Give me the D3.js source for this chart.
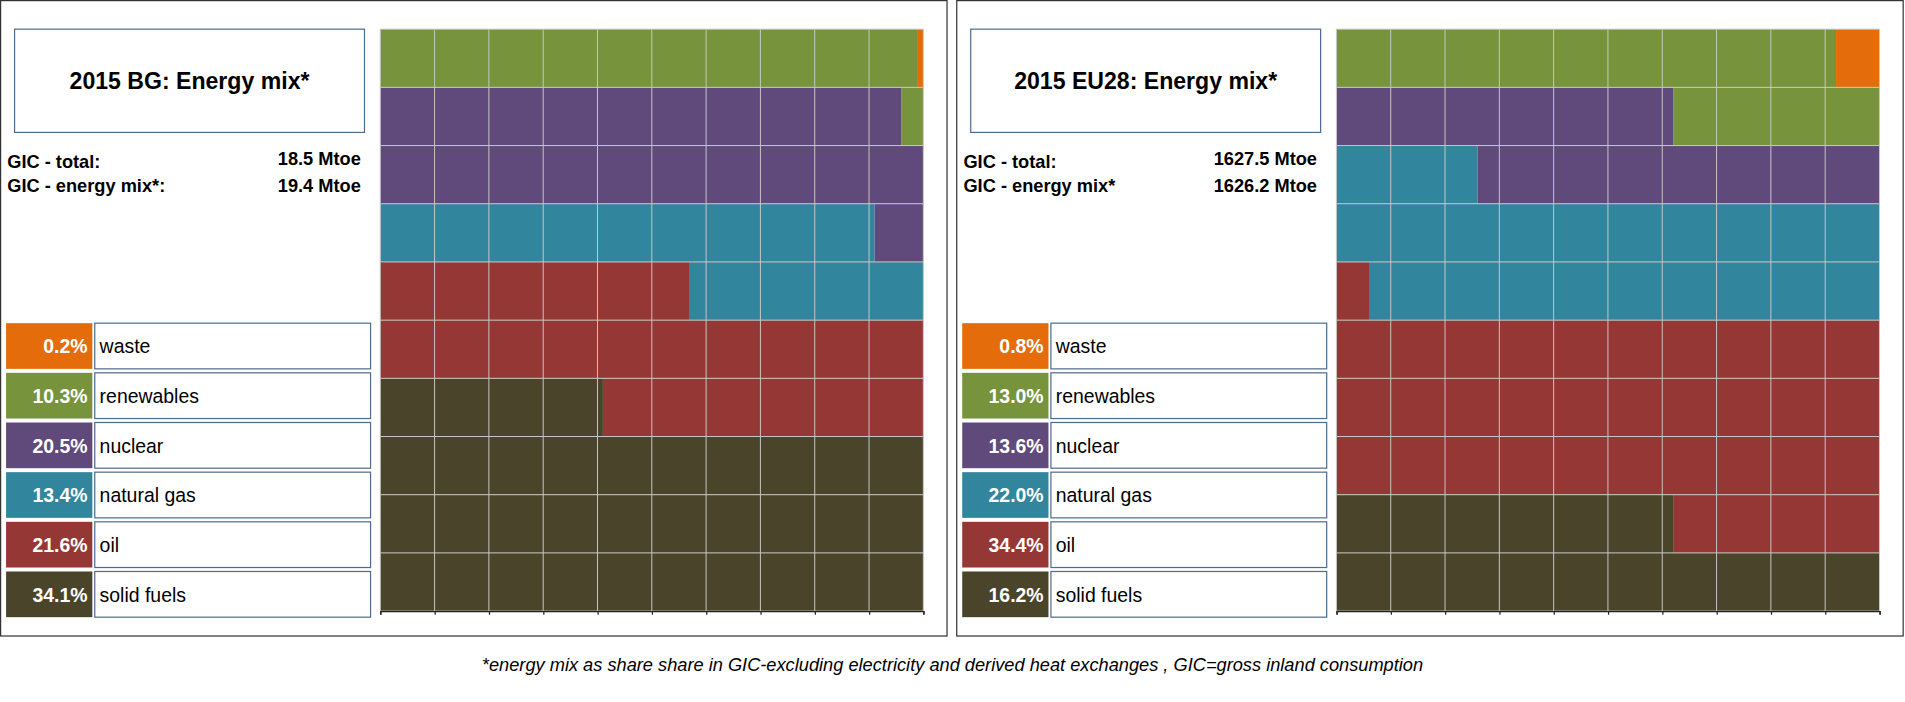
<html>
<head>
<script src="https://d3js.org/d3.v7.min.js"></script>
<style>body{margin:0;background:#fff}text{font-family:"Liberation Sans",Arial,sans-serif}</style>
</head>
<body>
<script>
// categories, stacked from the bottom of the waffle upward
var categories = ["solid fuels", "oil", "natural gas", "nuclear", "renewables", "waste"];
var colors = ["#4A452A", "#953735", "#31859C", "#604A7B", "#77933C", "#E46C0A"];
var bgValues = [34.1, 21.6, 13.4, 20.5, 10.3, 0.2];
var euValues = [16.2, 34.4, 22.0, 13.6, 13.0, 0.8];
var bgInfo = {title: "2015 BG: Energy mix*", total: "18.5 Mtoe", mix: "19.4 Mtoe", mixLabel: "GIC - energy mix*:"};
var euInfo = {title: "2015 EU28: Energy mix*", total: "1627.5 Mtoe", mix: "1626.2 Mtoe", mixLabel: "GIC - energy mix*"};
var footnote = "*energy mix as share share in GIC-excluding electricity and derived heat exchanges , GIC=gross inland consumption";

var s = 1905 / 1568;
var svg = d3.select("body").append("svg").attr("width", 1905).attr("height", 702);
var root = svg.append("g").attr("transform", "scale(" + s + ")");

function panel(ox, values, info) {
  var g = root.append("g").attr("transform", "translate(" + ox + ",0)");
  g.append("rect").attr("x", 0.5).attr("y", 0.5).attr("width", 779).attr("height", 523)
    .attr("fill", "none").attr("stroke", "#333");
  g.append("rect").attr("x", 12).attr("y", 24).attr("width", 288).attr("height", 85)
    .attr("fill", "#fff").attr("stroke", "#4F6B8F");
  g.append("text").attr("x", 156).attr("y", 73).attr("text-anchor", "middle")
    .attr("font-size", 19).attr("font-weight", "bold").text(info.title);
  g.append("text").attr("x", 6).attr("y", 138).attr("font-size", 15).attr("font-weight", "bold").text("GIC - total:");
  g.append("text").attr("x", 6).attr("y", 158).attr("font-size", 15).attr("font-weight", "bold").text(info.mixLabel);
  g.append("text").attr("x", 297).attr("y", 136).attr("text-anchor", "end").attr("font-size", 15).attr("font-weight", "bold").text(info.total);
  g.append("text").attr("x", 297).attr("y", 158).attr("text-anchor", "end").attr("font-size", 15).attr("font-weight", "bold").text(info.mix);

  // legend, top to bottom = reversed order
  var ly = d3.scaleBand().domain(categories.slice().reverse()).range([266, 508]).paddingInner(0.08);
  var leg = g.selectAll(".leg").data(categories.map(function (c, i) { return {c: c, v: values[i], col: colors[i]}; }))
    .enter().append("g");
  leg.append("rect").attr("x", 5).attr("y", function (d) { return ly(d.c); }).attr("width", 71).attr("height", ly.bandwidth()).attr("fill", function (d) { return d.col; });
  leg.append("rect").attr("x", 78).attr("y", function (d) { return ly(d.c); }).attr("width", 227).attr("height", ly.bandwidth()).attr("fill", "#fff").attr("stroke", "#4F6B8F");
  leg.append("text").attr("x", 72).attr("y", function (d) { return ly(d.c) + ly.bandwidth() / 2 + 6; }).attr("text-anchor", "end")
    .attr("fill", "#fff").attr("font-weight", "bold").attr("font-size", 16).text(function (d) { return d.v.toFixed(1) + "%"; });
  leg.append("text").attr("x", 82).attr("y", function (d) { return ly(d.c) + ly.bandwidth() / 2 + 6; })
    .attr("font-size", 16).text(function (d) { return d.c; });

  // waffle: 10 x 10, filled row by row from bottom-left
  var x = d3.scaleLinear().domain([0, 10]).range([313, 760]);
  var y = d3.scaleLinear().domain([0, 10]).range([503, 24]);
  var segs = [], cum = 0;
  values.forEach(function (v, i) {
    var a = cum, b = Math.min(100, cum + v); cum = b;
    for (var r = Math.floor(a / 10); r < 10 && r * 10 < b; r++) {
      var s0 = Math.max(a, r * 10) - r * 10, s1 = Math.min(b, r * 10 + 10) - r * 10;
      if (s1 > s0) segs.push({r: r, a: s0, b: s1, col: colors[i]});
    }
  });
  var w = g.append("g");
  w.selectAll("rect").data(segs).enter().append("rect")
    .attr("x", function (d) { return x(d.a); }).attr("width", function (d) { return x(d.b) - x(d.a); })
    .attr("y", function (d) { return y(d.r + 1); }).attr("height", function (d) { return y(d.r) - y(d.r + 1); })
    .attr("fill", function (d) { return d.col; });
  var ticks = d3.range(0, 11);
  w.selectAll(".vl").data(ticks).enter().append("line")
    .attr("x1", function (d) { return x(d); }).attr("x2", function (d) { return x(d); })
    .attr("y1", y(10)).attr("y2", y(0)).attr("stroke", "#c8c8c8").attr("stroke-width", 0.8);
  w.selectAll(".hl").data(ticks).enter().append("line")
    .attr("x1", x(0)).attr("x2", x(10)).attr("y1", function (d) { return y(d); }).attr("y2", function (d) { return y(d); })
    .attr("stroke", "#c8c8c8").attr("stroke-width", 0.8);
  w.append("g").attr("transform", "translate(0," + y(0) + ")")
    .call(d3.axisBottom(x).ticks(10).tickSize(3).tickFormat(""))
    .call(function (a) { a.selectAll("path,line").attr("stroke", "#222"); });
}
panel(0, bgValues, bgInfo);
panel(787, euValues, euInfo);

root.append("text").attr("x", 784).attr("y", 552).attr("text-anchor", "middle")
  .attr("font-style", "italic").attr("font-size", 15).text(footnote);
</script>
</body>
</html>
